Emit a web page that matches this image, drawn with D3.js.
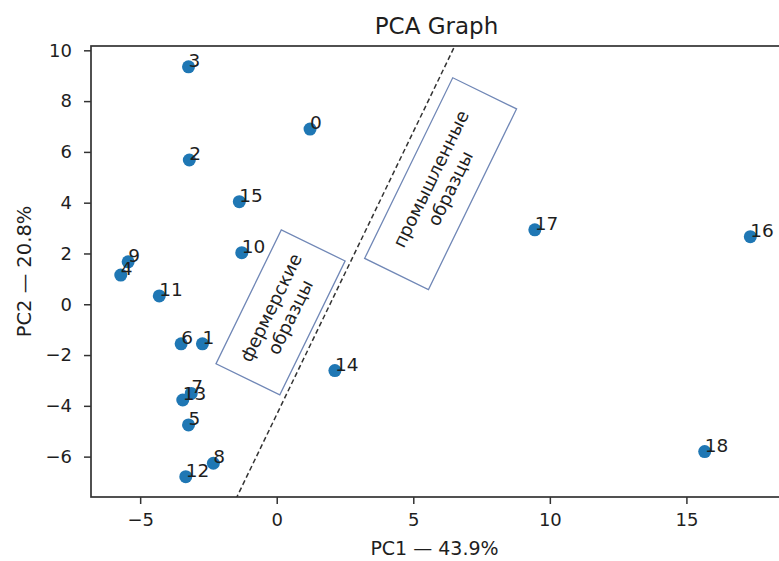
<!DOCTYPE html>
<html>
<head>
<meta charset="utf-8">
<script src="https://cdn.jsdelivr.net/npm/d3@7"></script>
<style>
  body { margin: 0; background: #fff; }
  text { font-family: "DejaVu Sans", sans-serif; fill: #1e1e1e; }
</style>
</head>
<body>
<script>
// sample ids and their PCA coordinates
const sampleIds = [0, 1, 2, 3, 4, 5, 6, 7, 8, 9, 10, 11, 12, 13, 14, 15, 16, 17, 18];
const pc1 = [1.22, -2.72, -3.20, -3.23, -5.71, -3.23, -3.50, -3.13, -2.32, -5.44,
             -1.28, -4.30, -3.33, -3.44, 2.13, -1.37, 17.34, 9.45, 15.67];
const pc2 = [6.90, -1.56, 5.68, 9.35, 1.15, -4.75, -1.56, -3.51, -6.26, 1.67,
             2.03, 0.33, -6.79, -3.77, -2.61, 4.04, 2.66, 2.93, -5.80];

const xTicks = [-5, 0, 5, 10, 15];
const yTicks = [-6, -4, -2, 0, 2, 4, 6, 8, 10];
const xLimits = [-6.8, 18.5];
const yLimits = [-7.59, 10.17];

// dashed divider between the two groups
const dividerX = [-1.5, 6.6];
const dividerY = [-7.68, 10.35];

// boxed notes
const noteLines = [["фермерские", "образцы"], ["промышленные", "образцы"]];
const noteX = [0.14, 6.0];
const noteY = [-0.32, 4.75];

const titleText = "PCA Graph";
const xLabel = "PC1 — 43.9%";
const yLabel = "PC2 — 20.8%";

const width = 779, height = 561;
const margin = {left: 91, top: 46, right: 782, bottom: 497};

const svg = d3.select("body").append("svg")
  .attr("width", width).attr("height", height);

const x = d3.scaleLinear().domain(xLimits).range([margin.left, margin.right]);
const y = d3.scaleLinear().domain(yLimits).range([margin.bottom, margin.top]);

svg.append("clipPath").attr("id", "plot-clip")
  .append("rect")
  .attr("x", margin.left).attr("y", margin.top)
  .attr("width", margin.right - margin.left)
  .attr("height", margin.bottom - margin.top);

// divider line
svg.append("line")
  .attr("clip-path", "url(#plot-clip)")
  .attr("x1", x(dividerX[0])).attr("y1", y(dividerY[0]))
  .attr("x2", x(dividerX[1])).attr("y2", y(dividerY[1]))
  .attr("stroke", "#333").attr("stroke-width", 1.5)
  .attr("stroke-dasharray", "5,3");

// notes with boxes
const boxW = [149, 201], boxH = 71, angle = -64;
noteLines.forEach((lines, i) => {
  const g = svg.append("g")
    .attr("transform", `translate(${x(noteX[i])},${y(noteY[i])}) rotate(${angle})`);
  g.append("rect")
    .attr("x", -boxW[i] / 2).attr("y", -boxH / 2)
    .attr("width", boxW[i]).attr("height", boxH)
    .attr("fill", "#fff").attr("stroke", "#7087b6").attr("stroke-width", 1.3);
  lines.forEach((t, j) => {
    g.append("text")
      .attr("text-anchor", "middle")
      .attr("y", -4.5 + j * 21.5)
      .style("font-size", "18px")
      .text(t);
  });
});

// points
svg.append("g").selectAll("circle")
  .data(sampleIds)
  .join("circle")
  .attr("cx", (d, i) => x(pc1[i]))
  .attr("cy", (d, i) => y(pc2[i]))
  .attr("r", 6.5)
  .attr("fill", "#1f77b4");

svg.append("g").selectAll("text")
  .data(sampleIds)
  .join("text")
  .attr("x", (d, i) => x(pc1[i]))
  .attr("y", (d, i) => y(pc2[i]))
  .style("font-size", "18.5px")
  .text(d => d);

// axes
const xAxis = svg.append("g")
  .attr("transform", `translate(0,${margin.bottom})`)
  .call(d3.axisBottom(x).tickValues(xTicks).tickSize(7).tickPadding(9).tickSizeOuter(0));
const yAxis = svg.append("g")
  .attr("transform", `translate(${margin.left},0)`)
  .call(d3.axisLeft(y).tickValues(yTicks).tickSize(7).tickPadding(12).tickSizeOuter(0));

[xAxis, yAxis].forEach(a => {
  a.select(".domain").remove();
  a.selectAll("line").attr("stroke", "#333").attr("stroke-width", 1.5);
  a.selectAll("text").style("font-size", "18px").style("font-family", "DejaVu Sans").attr("fill", "#1e1e1e");
});

// frame
svg.append("rect")
  .attr("x", margin.left).attr("y", margin.top)
  .attr("width", margin.right - margin.left)
  .attr("height", margin.bottom - margin.top)
  .attr("fill", "none").attr("stroke", "#333").attr("stroke-width", 1.7);

const cx = (margin.left + margin.right) / 2;
svg.append("text")
  .attr("x", cx).attr("y", 34)
  .attr("text-anchor", "middle")
  .style("font-size", "23px")
  .text(titleText);

svg.append("text")
  .attr("x", cx - 2).attr("y", 555)
  .attr("text-anchor", "middle")
  .style("font-size", "19px")
  .text(xLabel);

svg.append("text")
  .attr("transform", `translate(31,${(margin.top + margin.bottom) / 2}) rotate(-90)`)
  .attr("text-anchor", "middle")
  .style("font-size", "19.5px")
  .text(yLabel);
</script>
</body>
</html>
